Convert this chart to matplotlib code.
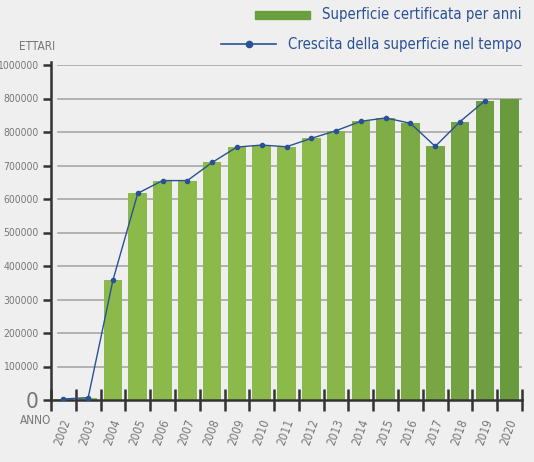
import numpy as np
import matplotlib
matplotlib.use('Agg')
import matplotlib.pyplot as plt
import matplotlib.transforms as mtransforms
from matplotlib.colors import to_rgb
from matplotlib.lines import Line2D
from matplotlib.patches import Rectangle

# Dati (ettari)
anni = ['2002', '2003', '2004', '2005', '2006', '2007', '2008', '2009', '2010', '2011',
        '2012', '2013', '2014', '2015', '2016', '2017', '2018', '2019', '2020']
superficie = [3000, 7000, 358000, 617000, 655000, 653000, 709000, 755000, 761000, 756000,
              781000, 804000, 832000, 842000, 826000, 757000, 831000, 893000, 900000]
crescita = [3000, 7000, 358000, 617000, 655000, 655000, 709000, 755000, 761000, 756000,
            781000, 804000, 832000, 842000, 826000, 757000, 831000, 893000, np.nan]
y_ticks = [0, 100000, 200000, 300000, 400000, 500000, 600000, 700000, 800000, 900000, 1000000]
y_labels = ['0', '100000', '200000', '300000', '400000', '500000', '600000', '700000',
            '800000', '800000', '1000000']
legenda = ['Superficie certificata per anni', 'Crescita della superficie nel tempo']

plt.rcParams['font.family'] = ['DejaVu Sans']
plt.rcParams['font.stretch'] = 'condensed'
BG = '#efefef'
GRAY = '#777777'
BLUE = '#2a5096'
W, H = 534, 462

fig = plt.figure(figsize=(W / 100, H / 100), dpi=100, facecolor=BG)
ax = fig.add_axes([51 / W, 1 - 400 / H, 471 / W, 335 / H], facecolor=BG)

x = np.arange(len(anni))
light = np.array(to_rgb('#8cba4a'))
dark = np.array(to_rgb('#6a9a3e'))
colors = []
for i in range(len(anni)):
    t = max(0, (i - 10) / 8)
    colors.append(light * (1 - t) + dark * t)

ax.bar(x, superficie, width=0.75, color=colors, zorder=2)
ax.plot(x, crescita, color=BLUE, lw=1.0, marker='o', ms=3, zorder=3)

ax.set_xlim(-0.5, len(anni) - 0.5)
ax.set_ylim(0, 1000000)

for v in y_ticks[1:]:
    ax.axhline(v, xmin=0.014, xmax=1, color='#a8a8a8', lw=1.2, zorder=1)

for s in ['top', 'right']:
    ax.spines[s].set_visible(False)
for s in ['left', 'bottom']:
    ax.spines[s].set_color('#333333')
    ax.spines[s].set_linewidth(1.8)
ax.spines['left'].set_bounds(0, 1010000)

ax.set_yticks(y_ticks)
ax.set_yticklabels(y_labels)
ax.tick_params(axis='y', direction='out', length=6, width=1.8, color='#333333',
               labelsize=7.5, labelcolor=GRAY, pad=3)
ax.get_yticklabels()[0].set_fontsize(16)

ax.set_xticks(np.arange(-0.5, len(anni)), [''] * (len(anni) + 1))
ax.tick_params(axis='x', which='major', direction='inout', length=16, width=1.8, color='#333333')
ax.set_xticks(x, anni, minor=True)
ax.tick_params(axis='x', which='minor', length=0, labelsize=8.5, labelcolor=GRAY, pad=14)
shift = mtransforms.ScaledTranslation(4 / 100, 0, fig.dpi_scale_trans)
for lab in ax.get_xticklabels(minor=True):
    lab.set_rotation(70)
    lab.set_rotation_mode('anchor')
    lab.set_ha('right')
    lab.set_va('center')
    lab.set_transform(lab.get_transform() + shift)

fig.text(19 / W, 1 - 47 / H, 'ETTARI', color=GRAY, fontsize=8.5, va='center', ha='left')
fig.text(20 / W, 1 - 421 / H, 'ANNO', color=GRAY, fontsize=8.5, va='center', ha='left')

# Legenda disegnata a mano: testo allineato a destra, simbolo subito a sinistra
renderer = fig.canvas.get_renderer()
rows_y = [15, 44]
for i, (label, yy) in enumerate(zip(legenda, rows_y)):
    t = fig.text(522 / W, 1 - yy / H, label, color=BLUE, fontsize=10.7, va='center', ha='right')
    x0 = t.get_window_extent(renderer).x0
    if i == 0:
        fig.patches.append(Rectangle((x0 - 13 - 55, H - yy - 4), 55, 8, color='#6a9f3e',
                                     transform=None, figure=fig))
    else:
        fig.lines.append(Line2D([x0 - 12 - 55, x0 - 12], [H - yy, H - yy], color=BLUE, lw=1.2,
                                transform=None, figure=fig))
        fig.lines.append(Line2D([x0 - 12 - 27.5], [H - yy], color=BLUE, marker='o', ms=4.5,
                                transform=None, figure=fig))

fig.savefig('out.png', dpi=100, facecolor=BG)
